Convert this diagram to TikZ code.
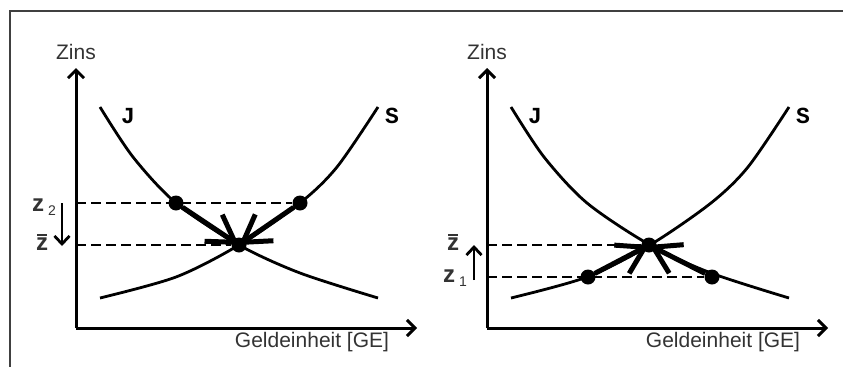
\documentclass[tikz,border=0pt]{standalone}
\usepackage{fontspec}
\setmainfont{Liberation Sans}
\newfontfamily\curvefont{Liberation Mono}
\usetikzlibrary{arrows.meta,positioning}

\newcommand{\zbar}{\ooalign{\hfil\raisebox{15pt}{\rule{10pt}{2pt}}\hfil\cr z}}

\begin{document}
\begin{tikzpicture}[x=1pt, y=-1pt,
    axis/.style={line width=3pt, -{Straight Barb[length=8pt,width=16pt]}},
    curve/.style={line width=2.8pt},
    dashline/.style={line width=2.6pt, dash pattern=on 10pt off 5pt},
    dot/.style={circle, fill=black, inner sep=0pt, minimum size=15pt},
    move/.style={line width=5pt, -{Straight Barb[length=26pt,width=32pt]}},
    zshift/.style={line width=2.8pt, -{Straight Barb[length=8pt,width=15pt]}},
    lbl/.style={font=\fontsize{21}{24}\selectfont, text=black!80},
    zlbl/.style={font=\fontsize{24}{26}\selectfont\bfseries, text=black!80, inner sep=0pt},
    curvelbl/.style={font=\fontsize{23}{24}\selectfont\curvefont\bfseries}]

  \useasboundingbox (0,0) rectangle (843,367);
  \draw[line width=2.6pt, black!75] (843,11) -- (10,11) -- (10,367);

  % left panel: interest too high
  \coordinate (o1) at (76,328);
  \coordinate (yt1) at (76,68);
  \coordinate (xt1) at (417,328);
  \draw[axis] (o1) -- (yt1);
  \draw[axis] (o1) -- (xt1);
  \node[lbl] (zins1) at (76,52) {Zins};
  \node[lbl] (ge1) at (312,342) {Geldeinheit [GE]};

  \draw[curve] plot[smooth] coordinates {(100,107) (133,157) (176,203) (239,245) (300,273) (378,298)};
  \draw[curve] plot[smooth] coordinates {(100,298) (176,277) (239,245) (300,203) (337,167) (378,107)};
  \node[curvelbl] (J1) at (128,116) {J};
  \node[curvelbl] (S1) at (392,116) {S};

  \node[dot] (j1) at (176,203) {};
  \node[dot] (s1) at (300,203) {};
  \node[dot] (e1) at (239,245) {};
  \draw[dashline] (o1 |- s1) -- (s1);
  \draw[dashline] (o1 |- e1) -- (e1);
  \draw[move] (j1) -- (e1.center);
  \draw[move] (s1) -- (e1.center);

  \node[zlbl] (z2) at (44,207) {z\,\raisebox{-4pt}{\fontsize{14}{14}\selectfont\mdseries 2}};
  \node[zlbl] (zq1) at (42,242) {\zbar};
  \coordinate (sa1) at (62,203);
  \coordinate (sb1) at (62,246);
  \draw[zshift] (sa1) -- (sb1);

  % right panel: interest too low
  \begin{scope}[xshift=411pt]
    \coordinate (o2) at (76,328);
    \coordinate (yt2) at (76,68);
    \coordinate (xt2) at (417,328);
    \draw[axis] (o2) -- (yt2);
    \draw[axis] (o2) -- (xt2);
    \node[lbl] (zins2) at (76,52) {Zins};
    \node[lbl] (ge2) at (312,342) {Geldeinheit [GE]};

    \draw[curve] plot[smooth] coordinates {(100,107) (133,157) (176,203) (239,245) (300,273) (378,298)};
    \draw[curve] plot[smooth] coordinates {(100,298) (176,277) (239,245) (300,203) (337,167) (378,107)};
    \node[curvelbl] (J2) at (124,116) {J};
    \node[curvelbl] (S2) at (392,116) {S};

    \node[dot] (s2) at (177,277) {};
    \node[dot] (j2) at (301,277) {};
    \node[dot] (e2) at (238,245) {};
    \draw[dashline] (o2 |- j2) -- (j2);
    \draw[dashline] (o2 |- e2) -- (e2);
    \draw[move] (s2) -- (e2.center);
    \draw[move] (j2) -- (e2.center);

    \node[zlbl] (zq2) at (42,242) {\zbar};
    \node[zlbl] (z1) at (44,278) {z\,\raisebox{-4pt}{\fontsize{14}{14}\selectfont\mdseries 1}};
    \coordinate (sa2) at (63,280);
    \coordinate (sb2) at (63,245);
    \draw[zshift] (sa2) -- (sb2);
  \end{scope}
\end{tikzpicture}
\end{document}
